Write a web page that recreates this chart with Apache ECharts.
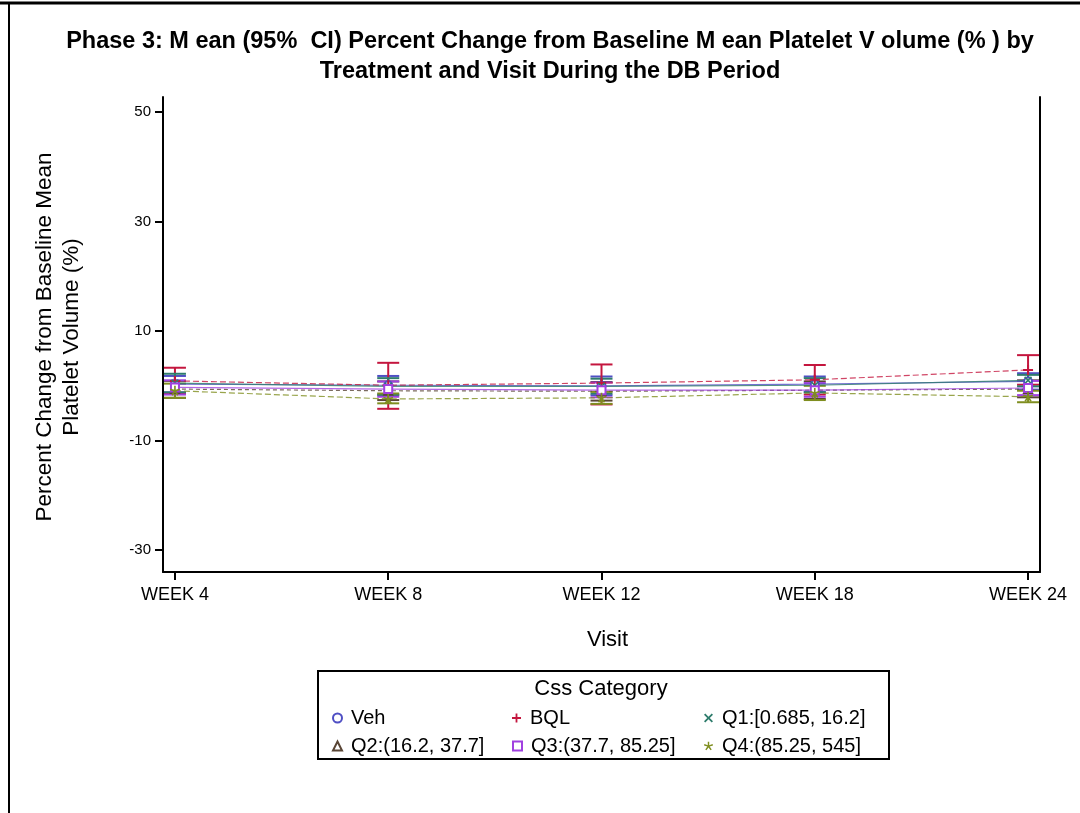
<!DOCTYPE html>
<html>
<head>
<meta charset="utf-8">
<script src="https://cdn.jsdelivr.net/npm/echarts@6/dist/echarts.min.js"></script>
<style>
  html, body { margin: 0; padding: 0; background: #fff; }
  #chart { width: 1080px; height: 813px; }
</style>
</head>
<body>
<div id="chart"></div>
<script>
// Visits on the x axis
const visits = ['WEEK 4', 'WEEK 8', 'WEEK 12', 'WEEK 18', 'WEEK 24'];
const yTicks = [-30, -10, 10, 30, 50];

// Css category groups
const groupNames = ['Veh', 'BQL', 'Q1:[0.685, 16.2]', 'Q2:(16.2, 37.7]', 'Q3:(37.7, 85.25]', 'Q4:(85.25, 545]'];

// Mean percent change by visit, one array per group
const vehMean = [0.3, 0.1, 0.0, 0.3, 0.8];
const bqlMean = [0.9, 0.1, 0.5, 1.1, 2.9];
const q1Mean  = [0.5, -0.1, -0.1, 0.1, 1.0];
const q2Mean  = [-0.6, -0.9, -1.0, -0.8, -0.6];
const q3Mean  = [-0.3, -0.6, -0.8, -0.8, -0.4];
const q4Mean  = [-0.9, -2.4, -2.2, -1.3, -2.0];

// Lower 95% CI limits
const vehLower = [-1.2, -1.6, -1.7, -1.1, -0.7];
const bqlLower = [-1.5, -4.2, -3.4, -1.6, 0.2];
const q1Lower  = [-1.2, -1.7, -1.4, -1.2, -0.1];
const q2Lower  = [-2.2, -2.6, -2.7, -2.4, -2.1];
const q3Lower  = [-1.6, -2.0, -2.1, -2.0, -1.7];
const q4Lower  = [-2.2, -3.2, -3.3, -2.6, -3.0];

// Upper 95% CI limits
const vehUpper = [1.8, 1.8, 1.7, 1.7, 2.3];
const bqlUpper = [3.3, 4.2, 3.9, 3.8, 5.6];
const q1Upper  = [2.2, 1.4, 1.3, 1.4, 2.0];
const q2Upper  = [0.9, 0.8, 0.7, 0.8, 1.0];
const q3Upper  = [1.0, 0.8, 0.6, 0.5, 0.9];
const q4Upper  = [0.4, -1.4, -1.1, 0.0, -0.9];

const means  = [vehMean, bqlMean, q1Mean, q2Mean, q3Mean, q4Mean];
const lowers = [vehLower, bqlLower, q1Lower, q2Lower, q3Lower, q4Lower];
const uppers = [vehUpper, bqlUpper, q1Upper, q2Upper, q3Upper, q4Upper];

const colors = ['#4F4FC4', '#C4163E', '#2E7C6C', '#5A4636', '#A040E0', '#7F8E1F'];
const plusPath = 'path://M4,0L6,0L6,4L10,4L10,6L6,6L6,10L4,10L4,6L0,6L0,4L4,4Z';
const crossPath = 'path://M1.4,0L5,3.6L8.6,0L10,1.4L6.4,5L10,8.6L8.6,10L5,6.4L1.4,10L0,8.6L3.6,5L0,1.4Z';
const starPath = 'path://M4.3,0L5.7,0L5.7,3.4L8.9,2.3L9.3,3.6L6.1,4.7L8.1,7.4L7,8.3L5,5.6L3,8.3L1.9,7.4L3.9,4.7L0.7,3.6L1.1,2.3L4.3,3.4Z';
const symbols = ['emptyCircle', plusPath, crossPath, 'emptyTriangle', 'emptyRect', starPath];
const lineTypes = ['solid', [6, 3], 'solid', [4, 3], 'solid', [6, 3]];

const FONT = '"Liberation Sans", Arial, sans-serif';

const series = [];
groupNames.forEach((name, g) => {
  series.push({
    name: name,
    type: 'line',
    data: means[g].map((v, i) => [i, v]),
    symbol: symbols[g],
    symbolSize: g === 1 || g === 5 ? 10 : 8,
    showSymbol: true,
    color: colors[g],
    lineStyle: { width: 1.2, type: lineTypes[g], opacity: 0.8 },
    itemStyle: { color: colors[g], borderWidth: 1.2 },
    z: 3
  });
  series.push({
    name: name,
    type: 'custom',
    data: lowers[g].map((lo, i) => [i, lo, uppers[g][i]]),
    z: 2,
    renderItem: function (params, api) {
      const x = api.value(0);
      const lo = api.coord([x, api.value(1)]);
      const hi = api.coord([x, api.value(2)]);
      const half = 11;
      const style = { stroke: colors[g], lineWidth: 2, fill: null };
      return {
        type: 'group',
        children: [
          { type: 'line', shape: { x1: lo[0], y1: lo[1], x2: hi[0], y2: hi[1] }, style: style },
          { type: 'line', shape: { x1: lo[0] - half, y1: lo[1], x2: lo[0] + half, y2: lo[1] }, style: style },
          { type: 'line', shape: { x1: hi[0] - half, y1: hi[1], x2: hi[0] + half, y2: hi[1] }, style: style }
        ]
      };
    }
  });
});

// One legend block per item so the columns line up
const legendPos = [
  [327, 703], [507, 703], [699, 703],
  [327, 731], [507, 731], [699, 731]
];
const legendIcons = ['emptyCircle', plusPath, crossPath, 'emptyTriangle', 'emptyRect', starPath];
const legends = groupNames.map((name, g) => ({
  data: [{ name: name, icon: legendIcons[g] }],
  left: legendPos[g][0],
  top: legendPos[g][1],
  itemWidth: 9,
  itemHeight: 9,
  itemGap: 0,
  selectedMode: false,
  textStyle: { fontFamily: FONT, fontSize: 20, color: '#000', padding: [0, 0, 0, 4] }
}));

const chart = echarts.init(document.getElementById('chart'), null, { renderer: 'canvas' });
chart.setOption({
  backgroundColor: '#fff',
  animation: false,
  legend: legends,
  grid: { left: 163, right: 40, top: 97, bottom: 241 },
  xAxis: {
    type: 'value',
    min: -0.056,
    max: 4.056,
    splitLine: { show: false },
    axisLine: { show: true, onZero: false, lineStyle: { color: '#000', width: 2 } },
    axisTick: { show: true, customValues: [0, 1, 2, 3, 4], length: 8, lineStyle: { color: '#000', width: 2 } },
    axisLabel: {
      customValues: [0, 1, 2, 3, 4],
      formatter: v => visits[Math.round(v)],
      fontFamily: FONT, fontSize: 18, color: '#000', margin: 14
    },
    name: 'Visit',
    nameLocation: 'middle',
    nameGap: 57,
    nameTextStyle: { fontFamily: FONT, fontSize: 22, color: '#000', padding: [0, 0, 0, 12] }
  },
  yAxis: [{
    type: 'value',
    min: -34,
    max: 52.74,
    splitLine: { show: false },
    axisLine: { show: true, onZero: false, lineStyle: { color: '#000', width: 2 } },
    axisTick: { show: true, customValues: yTicks, length: 8, lineStyle: { color: '#000', width: 2 } },
    axisLabel: { customValues: yTicks, fontFamily: FONT, fontSize: 15, color: '#000', margin: 12 }
  }, {
    type: 'value',
    position: 'right',
    min: -34,
    max: 52.74,
    splitLine: { show: false },
    axisLine: { show: true, onZero: false, lineStyle: { color: '#000', width: 2 } },
    axisTick: { show: false },
    axisLabel: { show: false }
  }],
  graphic: [
    { type: 'line', shape: { x1: 0, y1: 3, x2: 1080, y2: 3 }, style: { stroke: '#000', lineWidth: 3 } },
    { type: 'line', shape: { x1: 9, y1: 3, x2: 9, y2: 813 }, style: { stroke: '#000', lineWidth: 2 } },
    {
      type: 'text', x: 550, y: 57,
      style: {
        text: 'Phase 3: M ean (95%  CI) Percent Change from Baseline M ean Platelet V olume (% ) by\nTreatment and Visit During the DB Period',
        fontFamily: FONT, fontSize: 23.5, fontWeight: 'bold', fill: '#000', lineHeight: 30,
        textAlign: 'center', textVerticalAlign: 'middle'
      }
    },
    { type: 'rect', shape: { x: 318, y: 671, width: 571, height: 88 }, style: { fill: null, stroke: '#000', lineWidth: 2 } },
    { type: 'text', x: 601, y: 689, style: { text: 'Css Category', fontFamily: FONT, fontSize: 22, fill: '#000', textAlign: 'center', textVerticalAlign: 'middle' } },
    {
      type: 'text', x: 58, y: 337, rotation: Math.PI / 2,
      style: {
        text: 'Percent Change from Baseline Mean\nPlatelet Volume (%)',
        fontFamily: FONT, fontSize: 22.5, fill: '#000', lineHeight: 27,
        textAlign: 'center', textVerticalAlign: 'middle'
      }
    }
  ],
  series: series
});
</script>
</body>
</html>
